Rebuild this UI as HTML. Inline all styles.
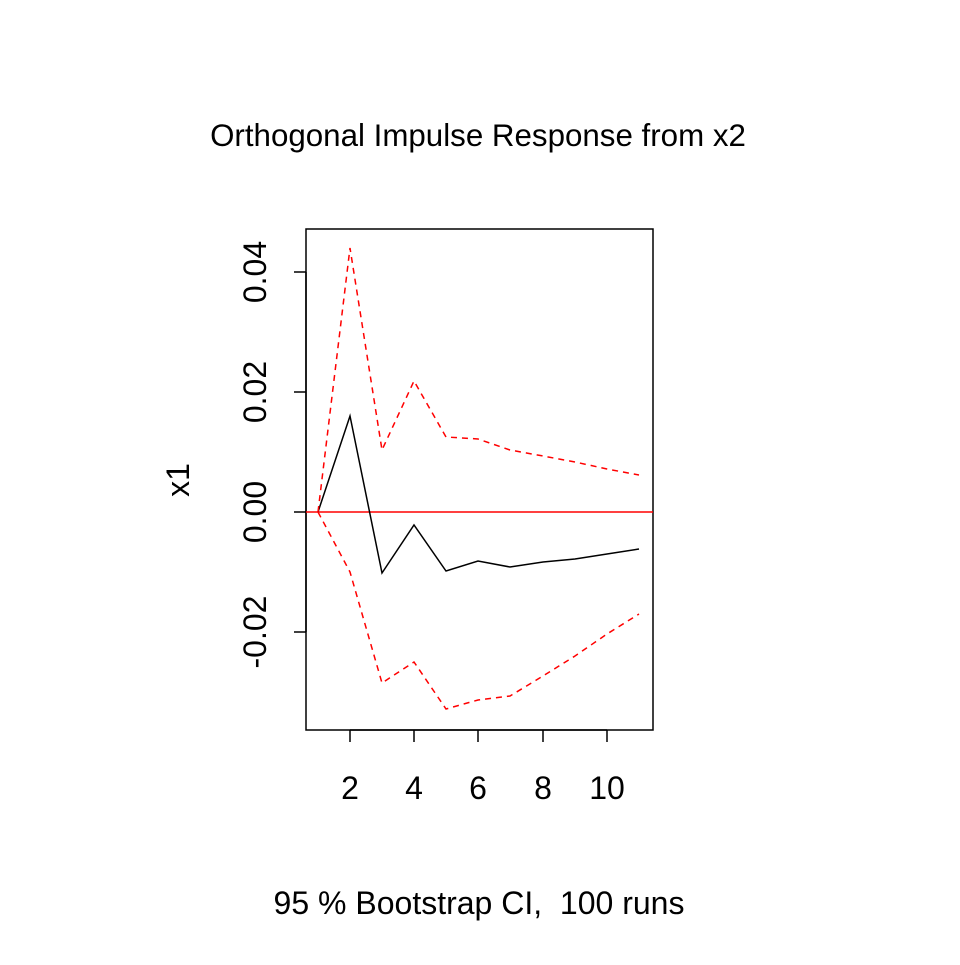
<!DOCTYPE html>
<html><head><meta charset="utf-8"><style>html,body{margin:0;padding:0;background:#fff}</style></head>
<body>
<svg width="960" height="960" viewBox="0 0 960 960" xmlns="http://www.w3.org/2000/svg" font-family="Liberation Sans, Arial, sans-serif">
<rect width="960" height="960" fill="#fff"/>
<text x="478" y="146" font-size="31.3" text-anchor="middle">Orthogonal Impulse Response from x2</text>
<rect x="306" y="229" width="347" height="501" fill="none" stroke="#000" stroke-width="1.5"/>
<g stroke="#000" stroke-width="1.5">
<line x1="350" y1="730" x2="607" y2="730"/>
<line x1="350" y1="730" x2="350" y2="742"/>
<line x1="414" y1="730" x2="414" y2="742"/>
<line x1="478" y1="730" x2="478" y2="742"/>
<line x1="543" y1="730" x2="543" y2="742"/>
<line x1="607" y1="730" x2="607" y2="742"/>
<line x1="306" y1="272" x2="306" y2="632"/>
<line x1="294" y1="272" x2="306" y2="272"/>
<line x1="294" y1="392" x2="306" y2="392"/>
<line x1="294" y1="512" x2="306" y2="512"/>
<line x1="294" y1="632" x2="306" y2="632"/>
</g>
<g font-size="32" text-anchor="middle">
<text x="350" y="799">2</text><text x="414" y="799">4</text><text x="478" y="799">6</text><text x="543" y="799">8</text><text x="607" y="799">10</text>
<text transform="translate(266,272) rotate(-90)">0.04</text>
<text transform="translate(266,392) rotate(-90)">0.02</text>
<text transform="translate(266,512) rotate(-90)">0.00</text>
<text transform="translate(266,632) rotate(-90)">-0.02</text>
<text transform="translate(189,480) rotate(-90)">x1</text>
<text x="479" y="914">95 % Bootstrap CI,&#160; 100 runs</text>
</g>
<line x1="306" y1="512" x2="653" y2="512" stroke="#f00" stroke-width="1.5"/>
<polyline fill="none" stroke="#000" stroke-width="1.5" points="318,512 350,416 382,573 414,525 446,571 478,561 510,567 543,562 575,559 607,554 639,549"/>
<polyline fill="none" stroke="#f00" stroke-width="1.5" stroke-dasharray="6,5" points="318,512 350,248 382,450 414,381 446,437 478,439 510,450 543,456 575,462 607,469 639,475"/>
<polyline fill="none" stroke="#f00" stroke-width="1.5" stroke-dasharray="6,5" points="318,512 350,572 382,683 414,662 446,709 478,700 510,696 543,676 575,656 607,634 639,614"/>
</svg>
</body></html>
